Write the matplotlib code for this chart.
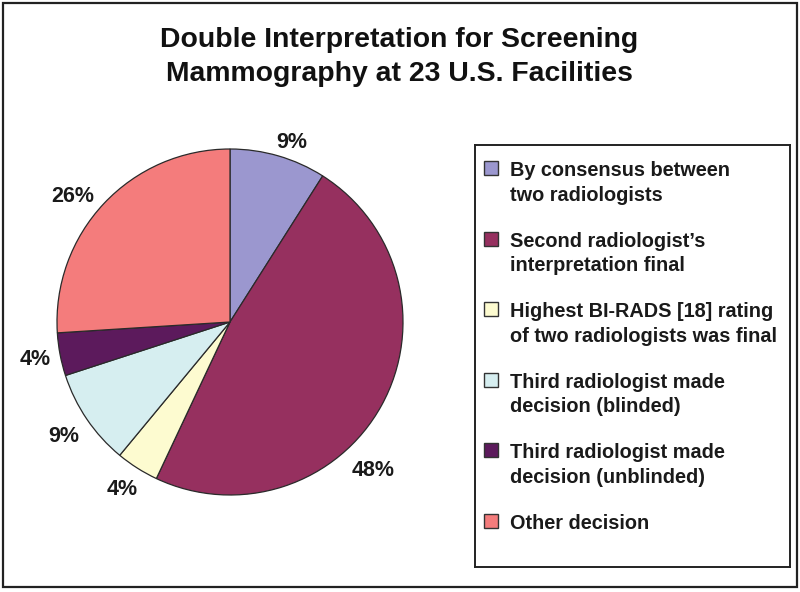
import matplotlib

matplotlib.use("Agg")

import matplotlib.pyplot as plt
import numpy as np
from matplotlib.patches import Rectangle

TITLE = "Double Interpretation for Screening\nMammography at 23 U.S. Facilities"

categories = [
    "By consensus between\ntwo radiologists",
    "Second radiologist\u2019s\ninterpretation final",
    "Highest BI-RADS [18] rating\nof two radiologists was final",
    "Third radiologist made\ndecision (blinded)",
    "Third radiologist made\ndecision (unblinded)",
    "Other decision",
]
shares = [9, 48, 4, 9, 4, 26]
colors = ["#9b97cf", "#96305f", "#fdfbd0", "#d6eef0", "#5c1a5c", "#f47c7c"]

# where each percentage label sits: (angle in degrees, radius as fraction of pie radius)
label_spots = [(71, 1.10), (-46, 1.19), (-122.7, 1.15), (-145.4, 1.17), (-169, 1.15), (141.4, 1.16)]

W, H = 800, 592
fig = plt.figure(figsize=(W / 100, H / 100), dpi=100)

# outer frame
fig.patches.append(Rectangle((3 / W, 5 / H), 794 / W, 584 / H, transform=fig.transFigure,
                             fill=False, edgecolor="#222222", lw=1.6))

fig.text(399 / W, 1 - 57 / H, TITLE, ha="center", va="center", fontsize=20.4,
         fontweight="bold", family="Liberation Sans",
         linespacing=1.4, color="#111111")

# pie
cx, cy, r = 230, 322, 173
ax = fig.add_axes([(cx - r) / W, (H - cy - r) / H, 2 * r / W, 2 * r / H])
wedges, texts = ax.pie(
    shares,
    labels=[f"{s}%" for s in shares],
    colors=colors,
    startangle=90,
    counterclock=False,
    wedgeprops=dict(edgecolor="#2a2a2a", linewidth=0.9),
    textprops=dict(fontsize=15.5, fontweight="bold", family="Liberation Sans", color="#1a1a1a"),
)
for t, (deg, dist) in zip(texts, label_spots):
    a = np.deg2rad(deg)
    t.set_position((dist * np.cos(a), dist * np.sin(a)))
    t.set_ha("center")
    t.set_va("center")
ax.set_xlim(-1, 1)
ax.set_ylim(-1, 1)

# legend box
lx0, lx1, ly0, ly1 = 475, 790, 145, 567
lax = fig.add_axes([lx0 / W, (H - ly1) / H, (lx1 - lx0) / W, (ly1 - ly0) / H])
lax.set_xlim(lx0, lx1)
lax.set_ylim(ly1, ly0)
lax.set_xticks([])
lax.set_yticks([])
for s in lax.spines.values():
    s.set_linewidth(1.4)
    s.set_edgecolor("#222222")
for i, (lab, col) in enumerate(zip(categories, colors)):
    y = 168 + 70.6 * i
    lax.add_patch(Rectangle((484, y - 7), 14, 14, facecolor=col, edgecolor="#333333", lw=1.0))
    lax.text(510, y - 7, lab, ha="left", va="top", fontsize=14.3, fontweight="bold",
             family="Liberation Sans", color="#1a1a1a", linespacing=1.38)

fig.savefig("out.png", dpi=100)
